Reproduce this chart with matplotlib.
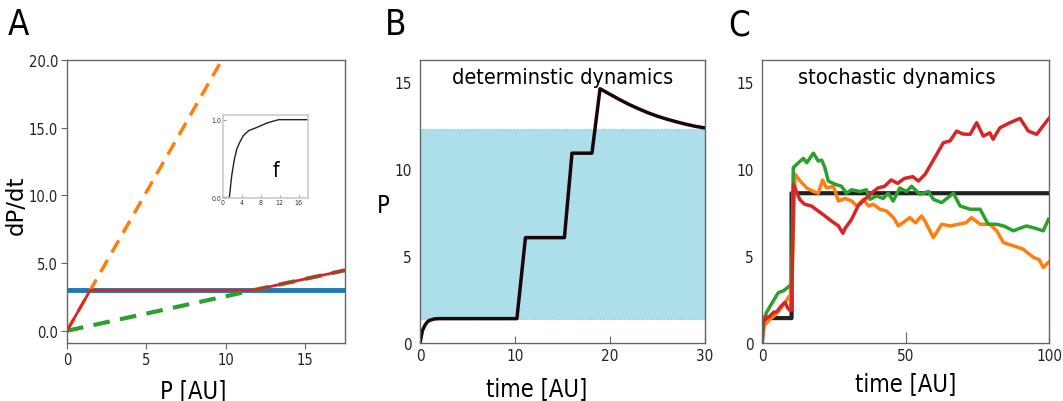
import matplotlib
matplotlib.use("Agg")
import matplotlib.pyplot as plt
import numpy as np

plt.rcParams['font.family'] = ['DejaVu Sans']
plt.rcParams['font.stretch'] = 'condensed'

# panel A: rate balance
prod_level = 3.0
orange_p = [0.0, 9.75]
orange_r = [0.0, 20.0]
green_p = [0.0, 17.5]
green_r = [0.0, 4.47]
red_p = [0.0, 1.46, 11.74, 17.5]
red_r = [0.0, 3.0, 3.0, 4.47]

# inset f
f_x = [0, 1.4, 1.9, 2.4, 2.95, 3.6, 4.35, 5.5, 7.2, 9.3, 11.8, 18]
f_y = [0, 0, 0.28, 0.47, 0.62, 0.71, 0.795, 0.86, 0.90, 0.957, 1.0, 1.0]

# panel B: deterministic dynamics
det_t = [0, 0.25, 0.5, 0.75, 1.0, 1.5, 2.0, 3, 10.2, 11.1, 15.2, 16.0, 18.1, 18.95,
         20, 21, 22, 23, 24, 25, 26, 27, 28, 29, 30]
det_p = [0, 0.7, 1.0, 1.2, 1.3, 1.38, 1.4, 1.4, 1.4, 6.05, 6.05, 10.9, 10.9, 14.6,
         14.28, 13.98, 13.7, 13.45, 13.22, 13.02, 12.85, 12.7, 12.56, 12.44, 12.35]
band = (1.4, 12.3)

# panel C: stochastic dynamics
mean_t = [0, 0.3, 1.5, 10.3, 10.3, 100]
mean_p = [0, 1.2, 1.43, 1.43, 8.6, 8.6]

green_t = [0, 0.5, 1.6, 3.5, 5.7, 7.5, 9.8, 10.3, 10.9, 12.7, 14.4, 15.6, 17.9, 19.6, 20.8,
           21.9, 23.1, 25.4, 27.7, 29.4, 31.2, 34.1, 36.4, 37.6, 39.9, 42.2, 44.0, 45.7,
           48.0, 50.4, 52.1, 55.0, 58, 59.7, 62.6, 66.7, 69.0, 72.5, 76, 78.8, 81.8, 84.5,
           87.6, 90, 92.2, 95, 98, 99.8]
green_v = [0, 1.3, 1.76, 2.3, 2.9, 3.0, 3.3, 3.3, 10.07, 10.35, 10.6, 10.35, 10.9, 10.45, 10.5,
           10.07, 9.3, 9.12, 9.0, 8.6, 8.8, 8.7, 8.8, 8.25, 8.44, 8.3, 8.6, 8.15,
           8.9, 8.7, 9.0, 8.54, 8.7, 8.25, 8.06, 8.6, 7.87, 7.68, 7.68, 6.82, 6.82, 6.7,
           6.44, 6.6, 6.72, 6.6, 6.44, 7.1]

orange_t = [0, 0.8, 2.8, 4.5, 6.3, 8, 9.5, 10.3, 11.5, 13.3, 15.6, 17.9, 19.6, 21.1, 22.5,
            24.9, 26.6, 29.0, 31.3, 33.0, 35.3, 37.1, 38.8, 41.1, 43.4, 45.8, 47.5, 49.2,
            51.5, 53.5, 55.6, 56.8, 59.7, 62.6, 65.5, 68.4, 71, 73, 76, 79.4, 81.8, 84.1,
            87.6, 91, 94.6, 96.5, 98, 99.8]
orange_v = [0, 1.0, 1.38, 1.6, 1.95, 2.3, 2.7, 2.7, 9.7, 9.3, 8.9, 8.7, 8.6, 9.36, 8.9,
            9.0, 8.15, 8.3, 8.15, 7.87, 8.25, 7.87, 7.97, 7.68, 7.58, 7.2, 6.73, 6.92,
            7.2, 6.9, 7.3, 7.0, 6.05, 6.82, 6.72, 6.82, 6.9, 7.2, 6.82, 6.82, 6.44, 5.77,
            5.58, 5.39, 4.91, 4.8, 4.34, 4.63]

red_t = [0, 0.4, 1.05, 2.5, 4.0, 5.2, 6.3, 8.0, 9.0, 9.8, 10.3, 11.0, 13.1, 14.8, 17.2, 19.6,
         21.9, 24.2, 26.6, 28.2, 28.9, 31.2, 33.5, 35.8, 38.1, 40.4, 42.7, 45.0, 47.3, 49.6,
         52.5, 54.5, 56.8, 59.7, 63.2, 65.5, 67.8, 70, 72.5, 74.8, 77.1, 79.4, 80.5, 82.9,
         86.4, 89.9, 92.8, 95.7, 99.2, 100]
red_v = [0, 1.2, 1.47, 1.5, 1.76, 1.8, 2.05, 2.34, 2.0, 1.86, 1.9, 9.1, 8.25, 7.97, 7.87, 7.58,
         7.3, 7.0, 6.73, 6.3, 6.57, 7.1, 7.87, 8.25, 8.6, 8.9, 9.0, 9.36, 9.17, 9.45,
         9.55, 9.3, 9.68, 10.5, 11.5, 11.6, 12.17, 12.0, 11.98, 12.65, 11.88, 12.07, 11.7,
         12.36, 12.65, 12.9, 12.17, 11.98, 12.74, 12.9]

W, H = 1063, 402
fig = plt.figure(figsize=(W / 100, H / 100), dpi=100)


def box(l, t, r, b):
    return [l / W, 1 - b / H, (r - l) / W, (b - t) / H]


spine_col = '#666666'
tick_col = '#222222'

# ---- A ----
axA = fig.add_axes(box(67, 61, 345, 344))
axA.axhline(prod_level, color='#1f77b4', lw=3.5)
axA.plot(orange_p, orange_r, color='#ff7f0e', lw=2.5, ls=(0, (4, 2.5)))
axA.plot(green_p, green_r, color='#2ca02c', lw=3, ls=(0, (4, 2.5)))
axA.plot(red_p, red_r, color='#d62728', lw=2)
axA.set_xlim(0, 17.5)
axA.set_ylim(-0.9, 20)
axA.set_xticks([0, 5, 10, 15])
axA.set_yticks([0, 5, 10, 15, 20])
axA.set_yticklabels(['0.0', '5.0', '10.0', '15.0', '20.0'])
axA.tick_params(direction='out', length=4, labelsize=10.5, pad=2.5, colors=spine_col, labelcolor=tick_col)

ins = fig.add_axes(box(222.7, 116, 308, 199))
ins.plot(f_x, f_y, color='#222222', lw=1)
ins.set_xlim(0, 18)
ins.set_ylim(-0.005, 1.06)
ins.set_xticks([0, 4, 8, 12, 16])
ins.set_yticks([0, 1])
ins.set_yticklabels(['0.0', '1.0'])
ins.tick_params(direction='in', length=2, labelsize=5, pad=1, colors='#999999', labelcolor='#333333')
for s in ins.spines.values():
    s.set_color('#cccccc')
    s.set_linewidth(1.2)
ins.text(11.3, 0.35, 'f', fontsize=15, ha='center', va='center')

# ---- B ----
axB = fig.add_axes(box(420, 61, 705, 344))
axB.axhspan(band[0], band[1], facecolor='#acdfe9', edgecolor='#aaaaaa', ls=':', lw=0.8)
axB.plot(det_t, det_p, color='#1a0508', lw=2.5)
axB.set_xlim(0, 30)
axB.set_ylim(0, 16.25)
axB.set_xticks([0, 10, 20, 30])
axB.set_yticks([0, 5, 10, 15])
axB.tick_params(axis='x', direction='in', length=5, labelsize=11, colors=spine_col, labelcolor=tick_col)
axB.tick_params(axis='y', direction='in', length=0, labelsize=11, labelcolor=tick_col, pad=6)
axB.text(15.05, 15.3, 'determinstic dynamics', fontsize=15.5, ha='center', va='center')

# ---- C ----
axC = fig.add_axes(box(762, 61, 1049, 344))
axC.plot(mean_t, mean_p, color='#222222', lw=3)
axC.plot(orange_t, orange_v, color='#ff7f0e', lw=2.5)
axC.plot(green_t, green_v, color='#2ca02c', lw=2.5)
axC.plot(red_t, red_v, color='#d62728', lw=2.5)
axC.set_xlim(0, 100)
axC.set_ylim(0, 16.25)
axC.set_xticks([0, 50, 100])
axC.set_yticks([0, 5, 10, 15])
axC.tick_params(axis='x', direction='in', length=8, labelsize=11, colors=spine_col, labelcolor=tick_col)
axC.tick_params(axis='y', direction='in', length=0, labelsize=11, labelcolor=tick_col, pad=6)
axC.text(46.9, 15.3, 'stochastic dynamics', fontsize=15.5, ha='center', va='center')

for ax in (axA, axB, axC):
    for s in ax.spines.values():
        s.set_color(spine_col)
        s.set_linewidth(1)

# labels
fig.text(16 / W, 1 - 205 / H, 'dP/dt', rotation=90, fontsize=16.5, fontstretch='normal',
         ha='center', va='center')
fig.text(193 / W, 1 - 398 / H, 'P [AU]', fontsize=17, ha='center', va='baseline')
fig.text(383 / W, 1 - 206 / H, 'P', fontsize=17, ha='center', va='center')
fig.text(537 / W, 1 - 396 / H, 'time [AU]', fontsize=17, ha='center', va='baseline')
fig.text(906 / W, 1 - 391 / H, 'time [AU]', fontsize=17, ha='center', va='baseline')
fig.text(8 / W, 1 - 8 / H, 'A', fontsize=25, ha='left', va='top')
fig.text(385 / W, 1 - 8 / H, 'B', fontsize=25, ha='left', va='top')
fig.text(728 / W, 1 - 8 / H, 'C', fontsize=25, ha='left', va='top')

fig.savefig('out.png', dpi=100)
